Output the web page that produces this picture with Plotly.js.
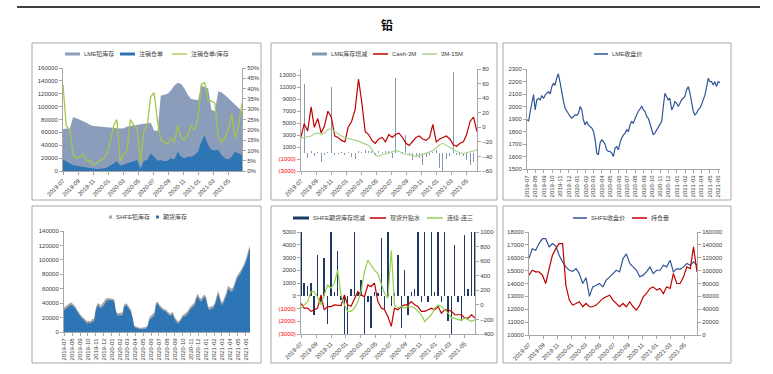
<!DOCTYPE html>
<html><head><meta charset="utf-8">
<script src="https://cdn.plot.ly/plotly-3.0.1.min.js"></script>
<style>html,body{margin:0;padding:0;background:#fff;}#chart{width:773px;height:374px;}</style>
</head><body><div id="chart"></div>
<script>
// ---------- Panel 1: LME stocks ----------
const p1Start = '2019-07-01', p1End = '2021-06-25';
const lmeStock = [65000,66000,65000,84000,82000,80000,78000,75000,72000,70000,
  69500,69000,68500,68000,67000,66500,66000,66000,66500,69000,
  70000,71000,72000,73000,74000,75000,75000,63000,62000,117000,
  118000,120000,125000,133000,137000,135000,128000,118000,112000,111000,
  110000,133000,131000,128000,95000,93000,124000,122000,118000,113000,
  108000,103000,98000,93000];
const lmeCancelled = [18000,15000,12000,9000,8000,7000,6000,5000,4000,4000,
  3000,3500,4000,5000,8000,12000,15000,8000,10000,12000,
  14000,16000,17000,3000,16000,17000,27000,22000,16000,17000,
  15000,16000,20000,18000,30000,22000,20000,22000,22000,25000,
  30000,45000,55000,40000,33000,32000,33000,25000,20000,18000,
  22000,30000,28000,25000];
const lmeRatio = [42,22,20,8,6,7,8,5,5,3,
  4,5,6,8,14,22,25,5,8,10,
  25,22,21,4,20,22,36,38,24,15,
  14,13,16,14,22,16,15,18,22,20,
  26,42,43,34,34,33,16,14,16,20,
  28,16,22,33];

// ---------- Panel 2: LME stock change & spreads ----------
const p2Start = '2019-07-01', p2End = '2021-06-13';
const lmeStockChange = [500,11500,-800,300,-500,200,-1500,-300,200,11000,
  -400,-200,100,-300,200,-600,-1000,300,200,500,
  300,400,-500,300,200,400,300,-800,12500,300,
  200,3000,-300,-1200,-500,-800,-2000,-600,-400,200,
  500,-2500,-3000,-1000,-500,13500,-400,-300,-500,-1200,
  -2000,-1500,-2500];
const cash3M = [-13,5,-5,28,0,12,-8,2,22,14,
  -12,-14,-18,-20,0,8,24,66,35,-6,
  -10,-18,-22,-16,-14,-20,-10,-14,-10,-8,
  -14,-22,-25,-20,-14,-12,-16,-18,-14,4,
  -20,-16,-14,-12,-16,-24,-26,-22,-20,-10,
  8,14,-6];
const spread3M15M = [-15,-14,-13,-12,-9,-8,-10,-8,-3,-2,
  -6,-9,-12,-14,-15,-16,-17,-19,-21,-23,
  -25,-30,-38,-40,-37,-37,-35,-34,-32,-33,
  -36,-37,-38,-39,-40,-39,-37,-35,-33,-32,
  -28,-24,-22,-25,-28,-31,-33,-35,-36,-35,
  -34,-33,-31];

// ---------- Panel 3: LME close ----------
const p3Start = '2019-07-01', p3End = '2021-06-08';
const lmeClose = [1893,1885,1960,2026,2095,1973,2053,2066,2053,2085,
  2066,2093,2106,2119,2100,2159,2185,2170,2226,2262,
  2185,2106,2039,1986,1960,1933,1920,1906,1920,1933,
  1930,1946,2000,1973,1893,1853,1880,1853,1840,1827,
  1800,1733,1627,1614,1707,1733,1720,1700,1654,1640,
  1640,1627,1600,1667,1680,1654,1707,1747,1773,1787,
  1813,1800,1853,1880,1866,1906,1933,1960,1986,2000,
  1973,1960,1920,1906,1866,1813,1773,1787,1813,1827,
  1853,1880,2000,2106,2080,2053,2066,1973,2000,2039,
  2026,2000,2026,2053,2066,2080,2133,2159,2106,2026,
  1960,1933,1946,1973,1986,2013,2053,2093,2159,2226,
  2199,2199,2172,2199,2159,2199,2190];

// ---------- Panel 4: SHFE stocks ----------
const p4Start = '2019-07-01', p4End = '2021-06-18';
const shfeStock = [34000,36000,38000,40000,41000,40000,38000,35000,31000,26000,
  24000,21000,19000,17000,15000,15500,15000,18000,18000,32000,
  40000,39000,37000,39000,42000,46000,47000,47000,46500,46000,
  45000,31000,26000,26000,26000,27000,38000,40000,38000,33000,
  31000,21000,9000,7500,6500,6000,6000,6000,6000,7000,
  10000,20000,23000,25000,27000,41000,42000,38000,35000,33000,
  32000,31000,28000,26000,26000,28000,21000,17000,15000,16000,
  19000,24000,25000,27000,29000,34000,36000,39000,41000,50000,
  53000,48000,46000,50000,52000,48000,36000,34000,36000,36000,
  40000,48000,57000,50000,41000,43000,48000,55000,64000,62000,
  60000,62000,69000,76000,80000,83000,87000,92000,97000,104000,
  113000,120000];
const shfeFutStock = [30000,32000,33000,35000,37000,37000,35000,32000,28000,23000,
  21000,18500,16000,14000,11600,13000,11600,15000,14000,28000,
  37000,35000,32500,35000,37000,42000,44000,44000,44000,44000,
  42000,28000,23000,23000,23000,23000,35000,37000,35000,30000,
  28000,18500,7000,5500,4600,3700,3700,3700,3700,4600,
  7000,16000,18500,21000,23000,37000,39000,35000,32500,30000,
  29000,28000,25000,23000,23000,25000,18000,14000,11600,13000,
  16000,21000,21000,23000,25000,30000,32500,35000,37000,46000,
  48700,44000,42000,46000,48700,44000,32500,30000,32500,32500,
  37000,44000,53000,46000,37000,39000,44000,51000,60000,58000,
  55600,58000,65000,72000,76500,79000,83500,88000,93000,100000,
  109000,116000];

// ---------- Panel 5: SHFE stock change & spreads ----------
const p5Start = '2019-07-01', p5End = '2021-06-13';
const shfeStockChange = [5500,1000,800,1000,-1500,3200,-500,3000,-2200,5500,
  300,3500,-300,-3500,-3500,500,5500,300,1200,-3500,
  -500,-2500,300,200,4500,-1000,5500,-800,200,3200,
  -2500,2000,-1500,300,500,5500,-500,5500,-500,5500,
  300,5500,-500,5500,-2000,-3500,4000,-500,-2000,4800,
  500,5500,5500];
const spotBasis = [20,-45,-45,-90,-70,-45,136,-68,-23,-23,
  0,0,-10,136,0,-20,91,182,136,114,
  273,250,300,45,-45,-68,-160,-295,-45,-68,
  -23,0,0,45,0,-23,-90,-90,-68,-45,
  -68,-23,-114,-68,-68,-90,-136,-136,-136,-182,
  -182,-136,-182];
const contSpread = [-45,0,45,182,182,100,0,136,273,230,
  300,477,136,0,-90,-90,-45,45,182,455,
  614,545,477,430,295,159,91,750,0,-45,
  -23,-45,-23,-23,-45,-90,-136,-227,-182,-136,
  -45,0,-23,-68,-114,-182,-182,-205,-205,-182,
  -205,-227,-205];

// ---------- Panel 6: SHFE close & open interest ----------
const p6Start = '2019-07-01', p6End = '2021-06-25';
const shfeClose = [15935,16700,16580,17100,17480,17480,16840,17100,16900,16190,
  15680,15290,15030,14950,15160,14770,14000,14450,13000,13740,
  13870,14000,13740,14260,14520,14770,15030,14900,15935,16300,
  15550,15290,15030,14520,14650,14900,15290,14770,15030,15030,
  15420,15290,15810,14900,15160,15100,15290,15550,15420,15680,
  15420];
const openInterest = [92900,100600,98000,98000,92900,80000,103200,123900,134200,141900,
  142000,77400,54200,46500,49000,51600,43900,49000,43900,43900,
  46500,51600,56800,59400,61900,54200,49000,43900,49000,43900,
  51600,43900,38700,46500,59400,64500,72300,74800,69700,72300,
  64500,74800,72300,95500,80000,80000,90300,105800,103200,136800,
  98000];

// ---------- helpers ----------
function spanDates(start, end, n) {
  const s = Date.parse(start), e = Date.parse(end);
  return Array.from({length: n}, (_, i) => new Date(s + (e - s) * i / (n - 1)).toISOString().slice(0, 10));
}
const W = 773, H = 374;
const dxd = (a, b) => [a / W, b / W];
const dyd = (top, bot) => [1 - bot / H, 1 - top / H];
const FONT = 'Liberation Sans, Arial, Noto Sans CJK SC, sans-serif';
const tickF = {family: FONT, size: 6, color: '#404040'};
const AX = '#A6A6A6';
function xAx(dom, anchor, range, dtick, angle) {
  return {type: 'date', domain: dom, anchor: anchor, range: range, tickformat: '%Y-%m',
    dtick: dtick, tick0: '2019-07-01', tickangle: angle, showgrid: false, zeroline: false,
    showline: true, linecolor: AX, linewidth: 1, ticks: 'outside', ticklen: 3, tickcolor: AX,
    tickfont: tickF, fixedrange: true};
}
function yAx(dom, anchor, range, dtick, extra) {
  return Object.assign({domain: dom, anchor: anchor, range: range, dtick: dtick, showgrid: false,
    zeroline: false, showline: true, linecolor: AX, linewidth: 1, ticks: 'outside', ticklen: 3,
    tickcolor: AX, tickfont: tickF, tickformat: 'd', fixedrange: true}, extra || {});
}
function negText(vals) {
  return vals.map(v => v < 0 ? "<span style='color:#FF0000'>(" + Math.abs(v) + ")</span>" : String(v));
}

const d1 = spanDates(p1Start, p1End, lmeStock.length);
const d2 = spanDates(p2Start, p2End, cash3M.length);
const d3 = spanDates(p3Start, p3End, lmeClose.length);
const d4 = spanDates(p4Start, p4End, shfeStock.length);
const d5 = spanDates(p5Start, p5End, spotBasis.length);
const d6 = spanDates(p6Start, p6End, shfeClose.length);
const DAY = 86400000;

const C = {lme: '#8C9DBB', blue: '#2E75B6', ratio: '#A2C64B', chg: '#8497B0', red: '#C00000',
  lgreen: '#A9D18E', navy: '#2F5597', gray: '#A6A6A6', dnavy: '#1F3864', green: '#92D050'};

const traces = [
  // P1
  {type: 'scatter', mode: 'lines', x: d1, y: lmeStock, name: 'LME铅库存', fill: 'tozeroy',
   line: {width: 0, color: C.lme}, fillcolor: C.lme, xaxis: 'x', yaxis: 'y'},
  {type: 'scatter', mode: 'lines', x: d1, y: lmeCancelled, name: '注销仓单', fill: 'tozeroy',
   line: {width: 0, color: C.blue}, fillcolor: C.blue, xaxis: 'x', yaxis: 'y'},
  {type: 'scatter', mode: 'lines', x: d1, y: lmeRatio, name: '注销仓单/库存',
   line: {width: 1.3, color: C.ratio}, xaxis: 'x', yaxis: 'y2'},
  // P2
  {type: 'bar', x: d2, y: lmeStockChange, name: 'LME库存增减', width: 4 * DAY,
   marker: {color: C.chg, line: {width: 0}}, xaxis: 'x2', yaxis: 'y3'},
  {type: 'scatter', mode: 'lines', x: d2, y: cash3M, name: 'Cash-3M',
   line: {width: 1.2, color: C.red}, xaxis: 'x2', yaxis: 'y4'},
  {type: 'scatter', mode: 'lines', x: d2, y: spread3M15M, name: '3M-15M',
   line: {width: 1.2, color: C.lgreen}, xaxis: 'x2', yaxis: 'y4'},
  // P3
  {type: 'scatter', mode: 'lines', x: d3, y: lmeClose, name: 'LME收盘价',
   line: {width: 1.2, color: C.navy}, xaxis: 'x3', yaxis: 'y5'},
  // P4
  {type: 'scatter', mode: 'lines', x: d4, y: shfeStock, name: 'SHFE铅库存', fill: 'tozeroy',
   line: {width: 0, color: C.gray}, fillcolor: C.gray, xaxis: 'x4', yaxis: 'y6'},
  {type: 'scatter', mode: 'lines', x: d4, y: shfeFutStock, name: '期货库存', fill: 'tozeroy',
   line: {width: 0, color: C.blue}, fillcolor: C.blue, xaxis: 'x4', yaxis: 'y6'},
  // P5
  {type: 'bar', x: d5, y: shfeStockChange, name: 'SHFE期货库存增减', width: 6 * DAY,
   marker: {color: C.dnavy, line: {width: 0}}, xaxis: 'x5', yaxis: 'y7'},
  {type: 'scatter', mode: 'lines', x: d5, y: spotBasis, name: '现货升贴水',
   line: {width: 1.2, color: C.red}, xaxis: 'x5', yaxis: 'y8'},
  {type: 'scatter', mode: 'lines', x: d5, y: contSpread, name: '连续-连三',
   line: {width: 1.2, color: C.green}, xaxis: 'x5', yaxis: 'y8'},
  // P6
  {type: 'scatter', mode: 'lines', x: d6, y: shfeClose, name: 'SHFE收盘价',
   line: {width: 1.2, color: C.navy}, xaxis: 'x6', yaxis: 'y9'},
  {type: 'scatter', mode: 'lines', x: d6, y: openInterest, name: '持仓量',
   line: {width: 1.2, color: C.red}, xaxis: 'x6', yaxis: 'y10'}
];

const p2Left = [-3000,-1000,1000,3000,5000,7000,9000,11000,13000];
const p5Left = [-3000,-2000,-1000,0,1000,2000,3000,4000,5000];

const panels = [[32,43,261,200],[271,43,497,200],[503,43,731,200],[32,206,261,363],[271,206,497,363],[503,206,731,363]];
const shapes = panels.map(p => ({type: 'rect', xref: 'paper', yref: 'paper', x0: p[0]/W, x1: p[2]/W,
  y0: 1 - p[3]/H, y1: 1 - p[1]/H, line: {color: '#A6A6A6', width: 1}, fillcolor: 'rgba(0,0,0,0)'}));
shapes.push({type: 'line', xref: 'paper', yref: 'paper', x0: 17/W, x1: 760/W, y0: 1 - 7/H, y1: 1 - 7/H,
  line: {color: '#000', width: 1.5}});

// legend keys: [symbol x0, symbol x1, y, color, thickness, label, kind]
const legendKeys = [
  [65, 80, 54, C.lme, 3, 'LME铅库存', 'line'],
  [120, 135, 54, C.blue, 3, '注销仓单', 'line'],
  [172, 187, 54, C.ratio, 1.3, '注销仓单/库存', 'line'],
  [312, 327, 54, C.chg, 3, 'LME库存增减', 'line'],
  [373, 388, 54, C.red, 1.5, 'Cash-3M', 'line'],
  [422, 437, 54, C.lgreen, 1.5, '3M-15M', 'line'],
  [594, 608, 54, C.navy, 1.5, 'LME收盘价', 'line'],
  [109, 112, 217, C.gray, 3, 'SHFE铅库存', 'sq'],
  [156, 159, 217, C.blue, 3, '期货库存', 'sq'],
  [293, 309, 218, C.dnavy, 3, 'SHFE期货库存增减', 'line'],
  [370, 386, 218, C.red, 1.5, '现货升贴水', 'line'],
  [427, 443, 218, C.green, 1.5, '连续-连三', 'line'],
  [573, 587, 218, C.navy, 1.5, 'SHFE收盘价', 'line'],
  [632, 647, 218, C.red, 1.5, '持仓量', 'line']
];
const annotations = [{text: '<b>铅</b>', xref: 'paper', yref: 'paper', x: 387/W, y: 1 - 24/H,
  xanchor: 'center', yanchor: 'middle', showarrow: false,
  font: {family: 'Noto Sans CJK SC, sans-serif', size: 12, color: '#000'}}];
legendKeys.forEach(k => {
  const [x0, x1, y, col, th, label, kind] = k;
  if (kind === 'line') {
    shapes.push({type: 'line', xref: 'paper', yref: 'paper', x0: x0/W, x1: x1/W, y0: 1 - y/H, y1: 1 - y/H,
      line: {color: col, width: th}});
  } else {
    shapes.push({type: 'rect', xref: 'paper', yref: 'paper', x0: x0/W, x1: x1/W, y0: 1 - (y + 1.5)/H, y1: 1 - (y - 1.5)/H,
      line: {width: 0}, fillcolor: col});
  }
  annotations.push({text: label, xref: 'paper', yref: 'paper', x: (x1 + 1.5)/W, y: 1 - y/H,
    xanchor: 'left', yanchor: 'middle', showarrow: false,
    font: {family: FONT, size: 6, color: '#404040'}});
});

const layout = {
  width: W, height: H, margin: {l: 0, r: 0, t: 0, b: 0}, paper_bgcolor: '#fff', plot_bgcolor: 'rgba(0,0,0,0)',
  font: {family: FONT, size: 6, color: '#404040'}, showlegend: false, bargap: 0,
  xaxis: xAx(dxd(63, 242), 'y', [p1Start, p1End], 'M2', -45),
  yaxis: yAx(dyd(68, 171), 'x', [0, 160000], 20000),
  yaxis2: yAx(dyd(68, 171), 'x', [0, 50], 5, {overlaying: 'y', side: 'right', ticksuffix: '%'}),
  xaxis2: xAx(dxd(301, 477), 'y3', [p2Start, p2End], 'M2', -45),
  yaxis3: yAx(dyd(69, 171), 'x2', [-3000, 14000], 2000, {tickmode: 'array', tickvals: p2Left, ticktext: negText(p2Left)}),
  yaxis4: yAx(dyd(69, 171), 'x2', [-60, 80], 20, {overlaying: 'y3', side: 'right'}),
  xaxis3: xAx(dxd(527, 720), 'y5', [p3Start, p3End], 'M1', -90),
  yaxis5: yAx(dyd(69, 169), 'x3', [1500, 2300], 100),
  xaxis4: xAx(dxd(64, 250), 'y6', [p4Start, p4End], 'M1', -90),
  yaxis6: yAx(dyd(231, 332), 'x4', [0, 140000], 20000),
  xaxis5: xAx(dxd(301, 475), 'y7', [p5Start, p5End], 'M2', -45),
  yaxis7: yAx(dyd(232, 334), 'x5', [-3000, 5000], 1000, {tickmode: 'array', tickvals: p5Left, ticktext: negText(p5Left)}),
  yaxis8: yAx(dyd(232, 334), 'x5', [-400, 1000], 200, {overlaying: 'y7', side: 'right'}),
  xaxis6: xAx(dxd(529, 697), 'y9', [p6Start, p6End], 'M2', -45),
  yaxis9: yAx(dyd(232, 335), 'x6', [10000, 18000], 1000),
  yaxis10: yAx(dyd(232, 335), 'x6', [0, 160000], 20000, {overlaying: 'y9', side: 'right'}),
  shapes: shapes,
  annotations: annotations
};
Plotly.newPlot('chart', traces, layout, {staticPlot: true, displayModeBar: false});
</script></body></html>
